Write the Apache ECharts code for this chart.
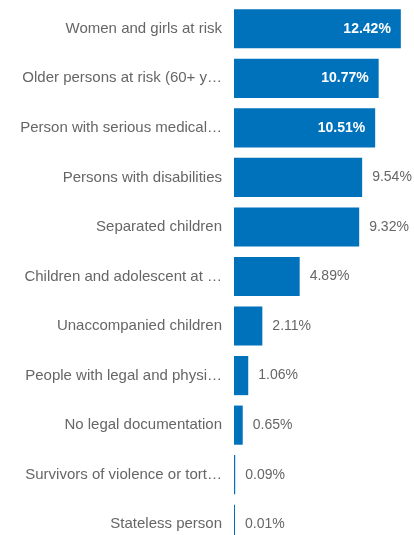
<!DOCTYPE html>
<html><head><meta charset="utf-8">
<script src="https://cdn.jsdelivr.net/npm/echarts@6/dist/echarts.min.js"></script>
<style>html,body{margin:0;padding:0;background:#fff;overflow:hidden}#c{width:414px;height:549px}</style>
</head><body><div id="c"></div>
<script>
var categories = ["Women and girls at risk","Older persons at risk (60+ years)","Person with serious medical condition","Persons with disabilities","Separated children","Children and adolescent at risk","Unaccompanied children","People with legal and physical protection needs","No legal documentation","Survivors of violence or torture","Stateless person"];
var values = [12.42, 10.77, 10.51, 9.54, 9.32, 4.89, 2.11, 1.06, 0.65, 0.09, 0.01];
var insideCount = 3;

var chart = echarts.init(document.getElementById('c'));
var data = values.map(function(v, i){
  var inside = i < insideCount;
  return {
    value: v,
    label: inside ? {position:'insideRight', color:'#fff', fontWeight:'bold', distance:10}
                  : {position:'right', color:'#666', fontWeight:'normal', distance:10}
  };
});
chart.setOption({
  animation:false,
  grid:{left:234, right:0, top:4, bottom:0, containLabel:false},
  xAxis:{type:'value', min:0, max:13.4, show:false},
  yAxis:{type:'category', inverse:true, data:categories,
    axisLine:{show:false}, axisTick:{show:false},
    axisLabel:{color:'#666', fontSize:15, fontFamily:'Liberation Sans, Arial, sans-serif', margin:12,
      width:203.5, overflow:'truncate', ellipsis:'…'}},
  series:[{type:'bar', data:data, barWidth:'79%', barMinHeight:1,
    itemStyle:{color:'#0072BC'},
    label:{show:true, fontSize:14, fontFamily:'Liberation Sans, Arial, sans-serif',
      formatter:function(p){return p.value.toFixed(2)+'%';}}}]
});
</script></body></html>
